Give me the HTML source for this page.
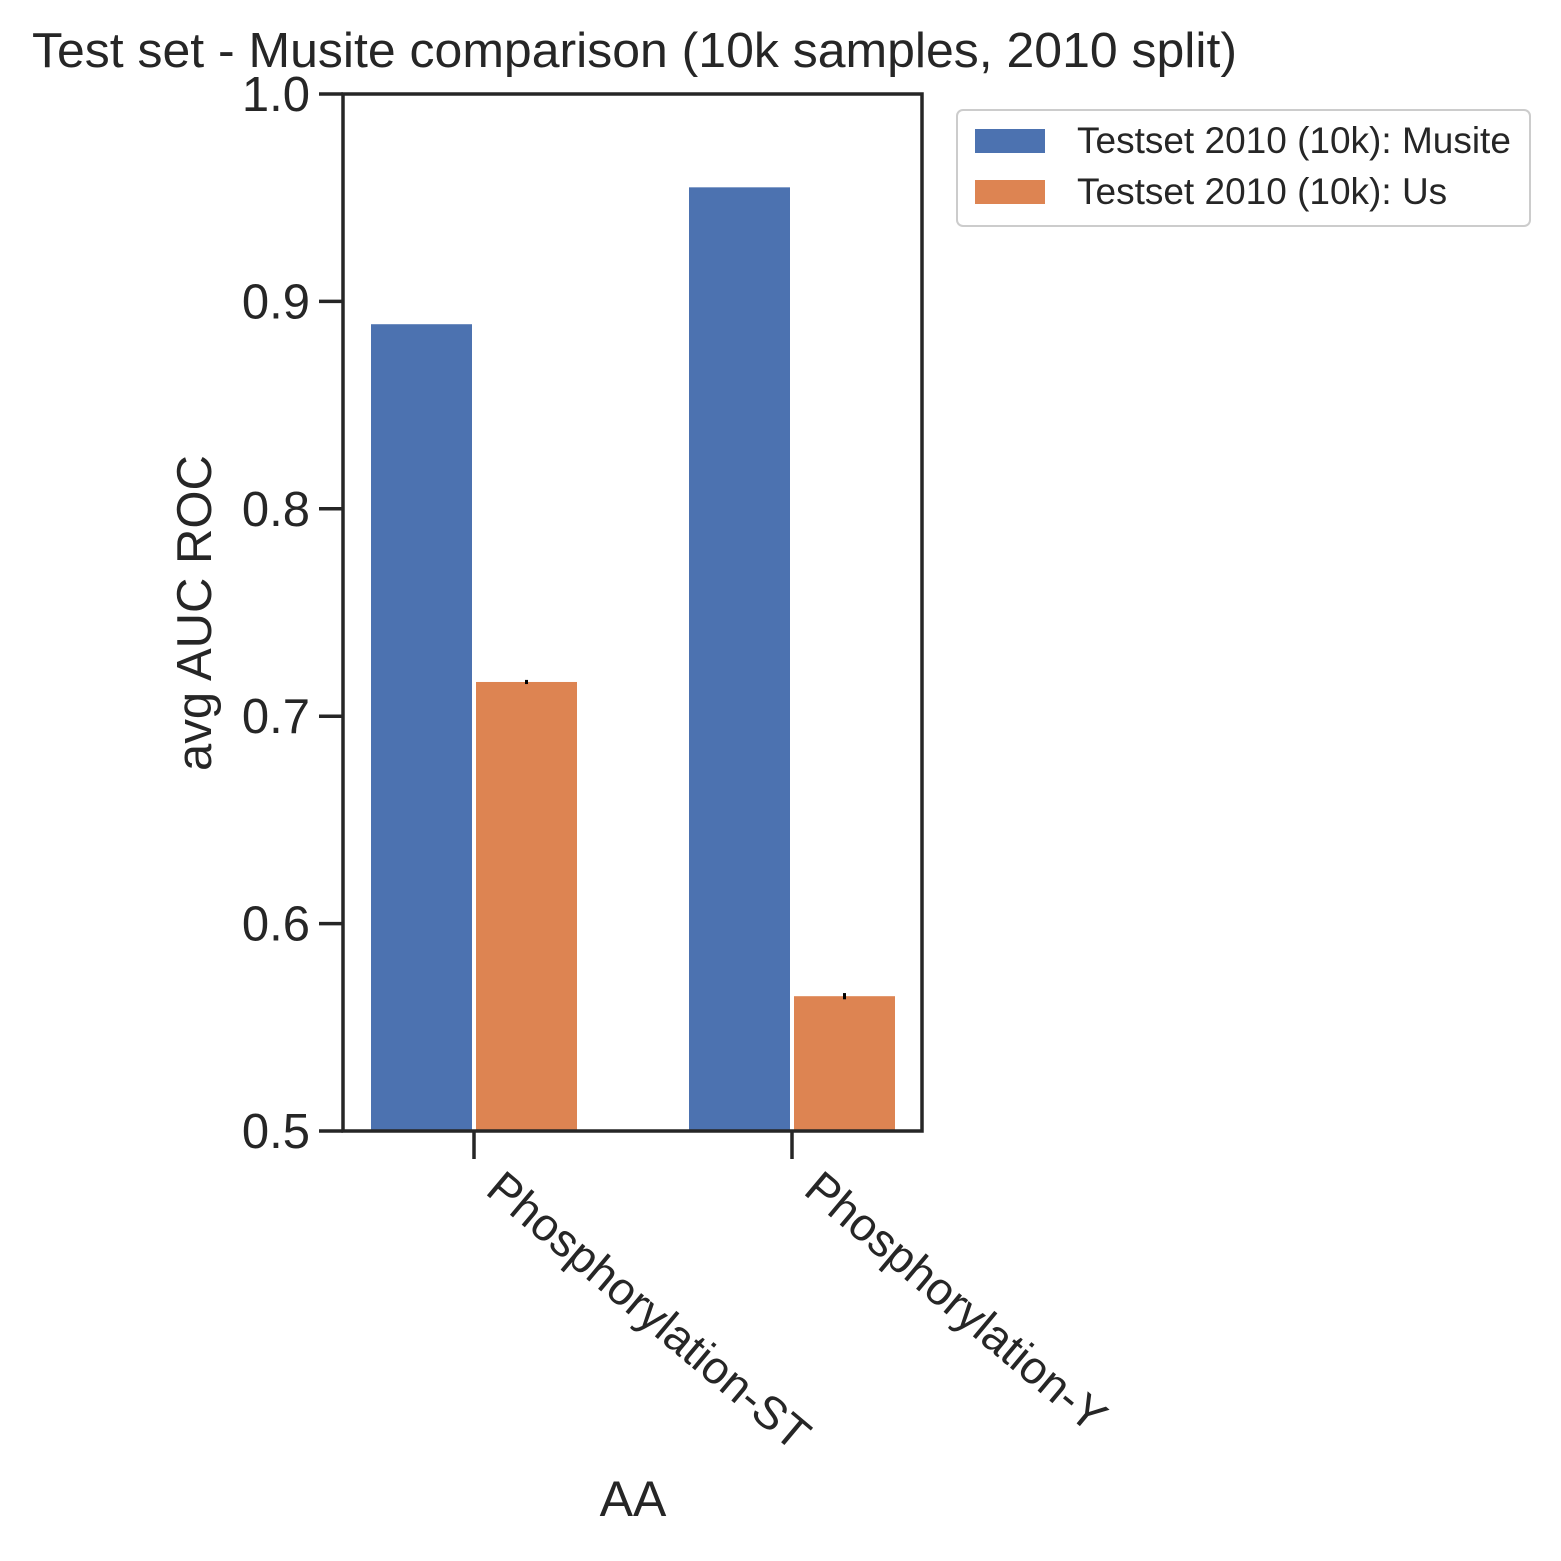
<!DOCTYPE html>
<html><head><meta charset="utf-8"><style>
html,body{margin:0;padding:0;background:#fff;}
svg text{font-family:"Liberation Sans",Arial,sans-serif;fill:#262626;}
</style></head><body>
<svg id="chart" width="1561" height="1556" viewBox="0 0 1561 1556" xmlns="http://www.w3.org/2000/svg">
<text x="32" y="67" font-size="49" textLength="1205" lengthAdjust="spacingAndGlyphs">Test set - Musite comparison (10k samples, 2010 split)</text>
<g id="bars"></g>
<g id="yaxis"></g>
<g id="xaxis"></g>
<rect x="343" y="94" width="579" height="1037" fill="none" stroke="#262626" stroke-width="3.5"/>
<text transform="translate(211,613) rotate(-90)" text-anchor="middle" font-size="49">avg AUC ROC</text>
<text x="633" y="1516" text-anchor="middle" font-size="50">AA</text>
<g>
<rect x="957" y="110" width="573" height="116" rx="6" fill="#fff" stroke="#cccccc" stroke-width="2"/>
<rect x="975" y="129" width="70" height="24" fill="#4c72b0"/>
<text x="1077" y="153" font-size="37">Testset 2010 (10k): Musite</text>
<rect x="975" y="180" width="70" height="24" fill="#dd8452"/>
<text x="1077" y="204" font-size="37">Testset 2010 (10k): Us</text>
</g>
</svg>
<script>
const categories = ["Phosphorylation-ST", "Phosphorylation-Y"];
const musiteValues = [0.889, 0.955];
const usValues = [0.7165, 0.565];
const usErrors = [0.001, 0.0015];
const yTicks = [0.5, 0.6, 0.7, 0.8, 0.9, 1.0];
const yTickLabels = ["0.5", "0.6", "0.7", "0.8", "0.9", "1.0"];

const NS = "http://www.w3.org/2000/svg";
const yMin = 0.5, yMax = 1.0, yTop = 94, yBot = 1131;
function y(v){ return yBot - (v - yMin) / (yMax - yMin) * (yBot - yTop); }
const xLeft = 343, xRight = 922;
function xCenter(i){ return 474 + i * 318; }
const barW = 101, gap = 4;
function mk(tag, attrs, parent){
  const e = document.createElementNS(NS, tag);
  for (const k in attrs) e.setAttribute(k, attrs[k]);
  parent.appendChild(e); return e;
}
const bars = document.getElementById('bars');
const yaxis = document.getElementById('yaxis');
const xaxis = document.getElementById('xaxis');
categories.forEach((c, i) => {
  const cx = xCenter(i);
  const b1 = mk('rect', {x: cx - gap/2 - barW, y: y(musiteValues[i]), width: barW, height: yBot - y(musiteValues[i]), fill: '#4c72b0'}, bars);
  
  
  const b2 = mk('rect', {x: cx + gap/2, y: y(usValues[i]), width: barW, height: yBot - y(usValues[i]), fill: '#dd8452'}, bars);
  
  
  const ex = cx + gap/2 + barW/2;
  const eb = mk('line', {x1: ex, x2: ex, y1: y(usValues[i] + usErrors[i]), y2: y(usValues[i] - usErrors[i]), stroke: '#000', 'stroke-width': 3}, bars);
  
  
  const t = mk('line', {x1: cx, x2: cx, y1: yBot, y2: yBot + 28, stroke: '#262626', 'stroke-width': 3.5}, xaxis);
  
  
  const lb = mk('text', {transform: `translate(${cx + 10},${yBot + 62}) rotate(40)`, 'font-size': 46}, xaxis);
  lb.textContent = c;
  
  
});
yTicks.forEach((v, i) => {
  const t = mk('line', {x1: xLeft - 24, x2: xLeft, y1: y(v), y2: y(v), stroke: '#262626', 'stroke-width': 3.5}, yaxis);
  
  
  const lb = mk('text', {x: xLeft - 33, y: y(v) + 17, 'text-anchor': 'end', 'font-size': 49}, yaxis);
  lb.textContent = yTickLabels[i];
  
  
});
</script>
</body></html>
